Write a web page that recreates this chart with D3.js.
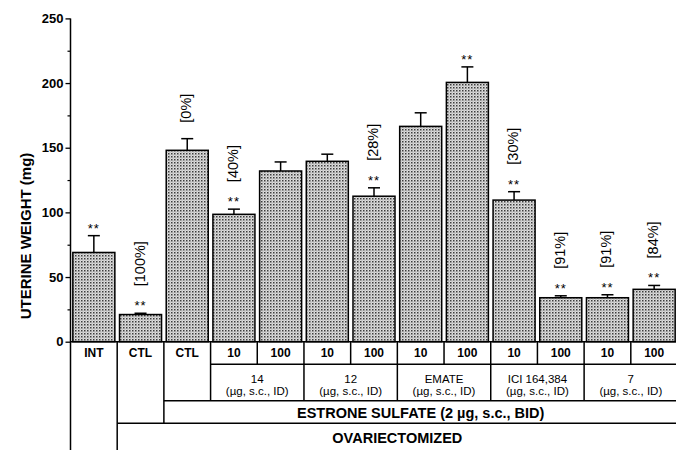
<!DOCTYPE html>
<html>
<head>
<meta charset="utf-8">
<script src="https://cdn.jsdelivr.net/npm/d3@7"></script>
<style>
  html, body { margin: 0; padding: 0; background: #fff; }
  svg { display: block; }
  text { font-family: "Liberation Sans", Arial, Helvetica, sans-serif; fill: #000; }
</style>
</head>
<body>
<svg id="chart" width="676" height="450"></svg>
<script>
// ---------- data ----------
const doseLabels = ["INT", "CTL", "CTL", "10", "100", "10", "100", "10", "100", "10", "100", "10", "100"];
const weights    = [69, 21, 148, 98.5, 132, 139.5, 112.5, 166.5, 200.5, 109.5, 34, 34, 40.5];
const errors     = [13, 1, 9, 4, 7, 5.5, 6.5, 10.5, 12, 6.5, 1.5, 2.3, 3];
const significant = [true, true, false, true, false, false, true, false, true, true, true, true, true];
const inhibition = ["", "[100%]", "[0%]", "[40%]", "", "", "[28%]", "", "", "[30%]", "[91%]", "[91%]", "[84%]"];
const compounds  = ["14", "12", "EMATE", "ICI 164,384", "7"];
const compoundStart = [3, 5, 7, 9, 11];
const compoundUnit = "(\u00b5g, s.c., ID)";
const yTicks = [0, 50, 100, 150, 200, 250];
const yMinorTicks = [25, 75, 125, 175, 225];
const yTitle = "UTERINE WEIGHT (mg)";
const estroneLabel = "ESTRONE SULFATE (2 \u00b5g, s.c., BID)";
const ovxLabel = "OVARIECTOMIZED";

// ---------- layout ----------
const svg = d3.select("#chart");
const W = 676, H = 450;
const x = d3.scaleBand().domain(d3.range(doseLabels.length))
  .range([70.5, 677.5]).paddingInner(0.1).paddingOuter(0.05);
const y = d3.scaleLinear().domain([0, 250]).range([341.7, 18.4]);
const cellLeft = i => x(i) - x.step() * x.paddingInner() / 2;
const cellRight = i => cellLeft(i) + x.step();
const row1 = 364.3, row2 = 400.7, row3 = 423.3;
const base = y(0);

// stipple pattern
const defs = svg.append("defs");
const pat = defs.append("pattern").attr("id", "stip")
  .attr("patternUnits", "userSpaceOnUse").attr("width", 3).attr("height", 3);
pat.append("rect").attr("width", 3).attr("height", 3).attr("fill", "#dedede");
pat.append("rect").attr("width", 1.5).attr("height", 1.5).attr("fill", "#3c3c3c");
pat.append("rect").attr("x", 1.5).attr("y", 1.5).attr("width", 1).attr("height", 1).attr("fill", "#8a8a8a");

svg.append("rect").attr("width", W).attr("height", H).attr("fill", "#fff");

// bars
const idx = d3.range(doseLabels.length);
svg.append("g").selectAll("rect").data(idx).join("rect")
  .attr("x", i => x(i))
  .attr("y", i => y(weights[i]))
  .attr("width", x.bandwidth())
  .attr("height", i => base - y(weights[i]))
  .attr("fill", "url(#stip)")
  .attr("stroke", "#000").attr("stroke-width", 1.5);

// error bars
const eg = svg.append("g").attr("stroke", "#000").attr("stroke-width", 1.5);
idx.forEach(i => {
  const cx = x(i) + x.bandwidth() / 2;
  const yt = y(weights[i] + errors[i]);
  eg.append("line").attr("x1", cx).attr("x2", cx).attr("y1", y(weights[i])).attr("y2", yt);
  eg.append("line").attr("x1", cx - 6).attr("x2", cx + 6).attr("y1", yt).attr("y2", yt);
});

// significance stars
svg.append("g").selectAll("text").data(idx.filter(i => significant[i])).join("text")
  .attr("x", i => x(i) + x.bandwidth() / 2)
  .attr("y", i => y(weights[i] + errors[i]) - 3)
  .attr("text-anchor", "middle")
  .attr("font-size", 13).attr("letter-spacing", 1)
  .text("**");

// inhibition labels (rotated)
svg.append("g").selectAll("text").data(idx.filter(i => inhibition[i])).join("text")
  .attr("transform", i => {
    const cx = x(i) + x.bandwidth() / 2 - 1;
    const yb = y(weights[i] + errors[i]) - (significant[i] ? 27 : 16);
    return `translate(${cx},${yb}) rotate(-90)`;
  })
  .attr("text-anchor", "start").attr("dominant-baseline", "central")
  .attr("font-size", 14.5)
  .text(i => inhibition[i]);

// y axis
const yAxis = d3.axisLeft(y).tickValues(yTicks).tickSize(5).tickPadding(2);
const ga = svg.append("g").attr("transform", "translate(70.5,0)").call(yAxis);
ga.select(".domain").remove();
ga.selectAll("line").attr("stroke-width", 1.3);
ga.selectAll("text").attr("font-size", 13).attr("font-weight", "bold")
  .attr("font-family", "Liberation Sans, Arial, sans-serif");
const gm = svg.append("g").attr("transform", "translate(70.5,0)")
  .call(d3.axisLeft(y).tickValues(yMinorTicks).tickSize(3).tickFormat(""));
gm.select(".domain").remove();
gm.selectAll("line").attr("stroke-width", 1.2);

svg.append("text")
  .attr("transform", "translate(25,236) rotate(-90)")
  .attr("text-anchor", "middle").attr("dominant-baseline", "central")
  .attr("font-size", 15).attr("font-weight", "bold")
  .text(yTitle);

// ---------- table ----------
const tg = svg.append("g").attr("stroke", "#000").attr("stroke-width", 1.5);
const L = (x1, y1, x2, y2) => tg.append("line").attr("x1", x1).attr("y1", y1).attr("x2", x2).attr("y2", y2);
const last = doseLabels.length - 1;
const rightEnd = cellRight(last);
// axis line through the table
L(70.5, y(250), 70.5, H);
// baseline
L(70.5, base, rightEnd, base);
// row boundaries
L(cellLeft(compoundStart[0]), row1, rightEnd, row1);
L(cellLeft(2), row2, rightEnd, row2);
L(cellLeft(1), row3, rightEnd, row3);
// verticals
L(cellLeft(1), base, cellLeft(1), H);
L(cellLeft(2), base, cellLeft(2), row3);
compoundStart.forEach(s => {
  L(cellLeft(s), base, cellLeft(s), row2);
  L(cellLeft(s + 1), base, cellLeft(s + 1), row1);
});
L(rightEnd, base, rightEnd, row2);

// row 1 labels
svg.append("g").selectAll("text").data(idx).join("text")
  .attr("x", i => x(i) + x.bandwidth() / 2)
  .attr("y", (base + row1) / 2)
  .attr("text-anchor", "middle").attr("dominant-baseline", "central")
  .attr("font-size", 12).attr("font-weight", "bold")
  .text(i => doseLabels[i]);

// row 2 compound labels
compounds.forEach((c, k) => {
  const s = compoundStart[k];
  const cx = (cellLeft(s) + cellRight(s + 1)) / 2;
  svg.append("text").attr("x", cx).attr("y", 378.5)
    .attr("text-anchor", "middle").attr("dominant-baseline", "central")
    .attr("font-size", 11.5).text(c);
  svg.append("text").attr("x", cx).attr("y", 391)
    .attr("text-anchor", "middle").attr("dominant-baseline", "central")
    .attr("font-size", 11.5).text(compoundUnit);
});

// row 3 and 4
svg.append("text").attr("x", (cellLeft(2) + rightEnd) / 2).attr("y", (row2 + row3) / 2 + 1)
  .attr("text-anchor", "middle").attr("dominant-baseline", "central")
  .attr("font-size", 14.5).attr("font-weight", "bold").text(estroneLabel);
svg.append("text").attr("x", (cellLeft(1) + rightEnd) / 2).attr("y", 437.5)
  .attr("text-anchor", "middle").attr("dominant-baseline", "central")
  .attr("font-size", 14.5).attr("font-weight", "bold").text(ovxLabel);
</script>
</body>
</html>
